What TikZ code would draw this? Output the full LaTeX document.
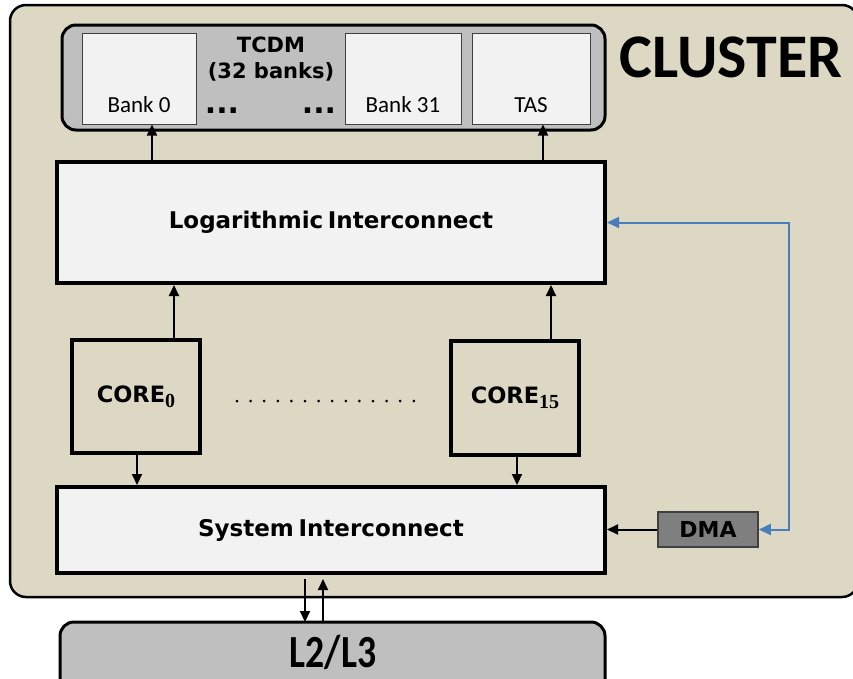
\documentclass[tikz,border=0pt]{standalone}
\usepackage{fontspec}
\setmainfont{Carlito}
\newfontfamily\verd{DejaVu Sans}
\newfontfamily\subserif{Liberation Serif}
\usetikzlibrary{arrows.meta}
\definecolor{clusterbg}{RGB}{221,216,196}
\definecolor{memgray}{RGB}{191,191,191}
\definecolor{boxlight}{RGB}{242,242,242}
\definecolor{dmagray}{RGB}{127,127,127}
\definecolor{linkblue}{RGB}{74,126,187}
\newcommand{\coresub}[1]{\raisebox{-5pt}{\subserif\bfseries\fontsize{20}{20}\selectfont #1}}
\tikzset{
  cluster/.style={draw=black, line width=2.5pt, fill=clusterbg, rounded corners=16pt},
  membox/.style={draw=black, line width=3pt, fill=memgray, rounded corners=14pt},
  bankbox/.style={draw=black!75, line width=1pt, fill=boxlight, minimum height=91pt, inner sep=0pt},
  icbox/.style={draw=black, line width=4pt, fill=boxlight, minimum width=548pt, inner sep=0pt,
    font=\verd\bfseries\fontsize{23}{26}\selectfont},
  corebox/.style={draw=black, line width=4pt, minimum width=128pt, inner sep=0pt,
    font=\verd\bfseries\fontsize{22.5}{26}\selectfont},
  dmabox/.style={draw=black!75, line width=1.5pt, fill=dmagray, minimum width=100pt,
    minimum height=35pt, inner sep=0pt, font=\verd\bfseries\fontsize{22}{26}\selectfont},
  banklabel/.style={font=\fontsize{23}{26}\selectfont},
  arr/.style={line width=2pt, -{Triangle[length=11pt,width=10pt]}},
  bluearr/.style={draw=linkblue, line width=2pt,
    {Triangle[length=12pt,width=11pt]}-{Triangle[length=12pt,width=11pt]}},
}
\begin{document}
\begin{tikzpicture}[x=1pt,y=-1pt]
\useasboundingbox[fill=white] (0,0) rectangle (853,678);

% cluster frame
\draw[cluster] (10,5) rectangle (858,597);
\node[anchor=base, font=\bfseries\fontsize{62}{64}\selectfont] (cltitle) at (731,77) {CLUSTER};

% TCDM with its banks
\draw[membox] (62,25) rectangle (605,130);
\node[bankbox, minimum width=114pt] (bank0) at (139,78.5) {};
\node[bankbox, minimum width=116pt] (bank31) at (403,78.5) {};
\node[bankbox, minimum width=118pt] (tas) at (531,78.5) {};
\node[banklabel, anchor=base] (lb0) at (139,112) {Bank 0};
\node[banklabel, anchor=base] (lb31) at (403,112) {Bank 31};
\node[banklabel, anchor=base] (ltas) at (531,112) {TAS};
\node[align=center, font=\verd\bfseries\fontsize{21}{26}\selectfont] (tcdm) at (271,59) {TCDM\\(32 banks)};
\node[anchor=base, font=\verd\bfseries\fontsize{30}{30}\selectfont] (dotsa) at (222,113) {...};
\node[anchor=base, font=\verd\bfseries\fontsize{30}{30}\selectfont] (dotsb) at (319,113) {...};

% interconnects
\node[icbox, minimum height=121pt] (logint) at (331,222.5) {Logarithmic\hspace{0.2em}Interconnect};
\node[icbox, minimum height=86pt] (sysint) at (331,530) {System\hspace{0.2em}Interconnect};

% cores
\node[corebox, minimum height=113pt] (core0) at (136,396.5) {CORE\coresub{0}};
\node[corebox, minimum height=114pt] (core15) at (515,398) {CORE\coresub{15}};
\draw[line width=3pt, line cap=round, dash pattern=on 0pt off 13.6pt] (237,401) -- (414,401);

% DMA
\node[dmabox] (dma) at (708,529.5) {DMA};

% external memory
\draw[membox] (60,622) rectangle (605,700);
\node[anchor=base, font=\bfseries\fontsize{46}{48}\selectfont] (l2) at (333,667) {\scalebox{0.82}[1]{L2/L3}};
\coordinate (l2top) at (333,622);

% connectors
\draw[arr] ([xshift=13pt]bank0.south |- logint.north) -- ([xshift=13pt]bank0.south);
\draw[arr] ([xshift=12pt]tas.south |- logint.north) -- ([xshift=12pt]tas.south);
\draw[arr] ([xshift=38pt]core0.north) -- ([xshift=38pt]core0.north |- logint.south);
\draw[arr] ([xshift=36pt]core15.north) -- ([xshift=36pt]core15.north |- logint.south);
\draw[arr] ([xshift=1pt]core0.south) -- ([xshift=1pt]core0.south |- sysint.north);
\draw[arr] ([xshift=2pt]core15.south) -- ([xshift=2pt]core15.south |- sysint.north);
\draw[arr] (dma.west) -- (dma.west -| sysint.east);
\draw[arr] ([xshift=-26pt,yshift=-4pt]sysint.south) -- ([xshift=-28pt]l2top);
\draw[arr] ([xshift=-10pt]l2top) -- ([xshift=-8pt,yshift=-4pt]sysint.south);
\coordinate (bend) at (789,0);
\draw[bluearr] (logint.east) -- (logint.east -| bend) -- (bend |- dma.east) -- (dma.east);
\end{tikzpicture}
\end{document}
